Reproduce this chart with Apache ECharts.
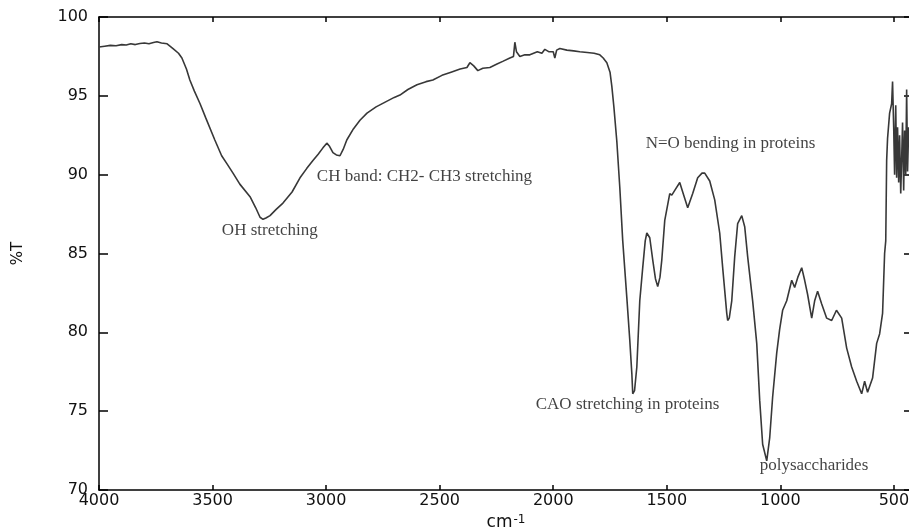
<!DOCTYPE html>
<html>
<head>
<meta charset="utf-8">
<script src="https://cdn.jsdelivr.net/npm/echarts@6/dist/echarts.min.js"></script>
<style>
html,body{margin:0;padding:0;background:#fff;}
#chart{width:909px;height:530px;}
</style>
</head>
<body>
<div id="chart"></div>
<script>
// Wavenumber (cm-1) and transmittance (%T)
const wavenumber = [4000,3975,3950,3925,3900,3880,3860,3840,3820,3800,3780,3760,3745,3725,3700,3674,3650,3635,3615,3600,3580,3555,3530,3490,3460,3437,3410,3380,3335,3310,3291,3278,3265,3247,3220,3190,3150,3115,3085,3058,3035,3014,2997,2985,2970,2955,2939,2925,2909,2880,2851,2820,2780,2740,2700,2675,2640,2600,2560,2530,2490,2450,2410,2380,2367,2350,2332,2310,2279,2250,2220,2191,2175,2169,2162,2147,2125,2103,2070,2050,2037,2020,2000,1993,1985,1971,1940,1910,1883,1850,1820,1795,1780,1764,1750,1742,1733,1720,1707,1694,1676,1663,1654,1650,1642,1632,1619,1606,1595,1588,1575,1562,1550,1540,1530,1522,1509,1487,1478,1465,1443,1430,1408,1386,1364,1345,1333,1311,1289,1267,1254,1236,1232,1225,1214,1201,1188,1170,1157,1144,1122,1104,1091,1078,1060,1047,1034,1016,1003,990,972,950,937,923,906,893,880,862,849,836,818,796,774,753,730,708,686,664,642,629,616,594,576,563,550,541,536,532,528,519,510,506,501,497,492,488,484,479,475,470,466,462,457,453,448,444,440,435];
const transmittance = [98.10,98.15,98.20,98.18,98.25,98.22,98.30,98.25,98.32,98.35,98.30,98.38,98.43,98.35,98.30,98.00,97.70,97.40,96.70,96.00,95.30,94.50,93.60,92.20,91.20,90.70,90.10,89.40,88.60,87.90,87.30,87.17,87.25,87.40,87.80,88.20,88.90,89.80,90.40,90.90,91.30,91.70,92.00,91.80,91.40,91.25,91.20,91.60,92.20,92.90,93.45,93.90,94.30,94.60,94.90,95.05,95.40,95.70,95.90,96.00,96.30,96.50,96.70,96.80,97.10,96.90,96.60,96.75,96.80,97.00,97.20,97.40,97.50,98.40,97.80,97.50,97.60,97.60,97.80,97.70,97.95,97.80,97.80,97.40,97.90,98.00,97.90,97.85,97.80,97.75,97.70,97.60,97.40,97.10,96.50,95.60,94.30,92.10,89.20,85.80,82.20,79.50,77.40,76.10,76.30,77.80,82.00,84.10,85.80,86.30,86.00,84.60,83.40,82.90,83.50,84.60,87.10,88.80,88.70,89.00,89.50,88.90,87.90,88.80,89.80,90.10,90.10,89.60,88.40,86.30,84.10,81.20,80.75,80.90,82.00,84.80,86.90,87.40,86.70,84.80,82.00,79.30,75.70,72.90,71.85,73.30,75.90,78.70,80.20,81.40,82.00,83.30,82.85,83.50,84.10,83.30,82.40,80.90,82.00,82.60,81.80,80.90,80.75,81.40,80.90,79.00,77.80,76.90,76.10,76.90,76.20,77.10,79.30,79.90,81.20,85.00,85.80,90.90,92.30,93.90,94.50,95.90,93.00,90.00,94.40,89.80,93.00,89.50,92.50,88.80,91.00,93.30,89.00,92.80,90.00,95.40,90.20,93.00];

// Tick labels
const xTicks = [4000,3500,3000,2500,2000,1500,1000,500];
const yTicks = [70,75,80,85,90,95,100];

// Annotations: text, anchor wavenumber (left edge of text), anchor %T (text middle)
const annotationText = ['OH stretching','CH band: CH2- CH3 stretching','N=O bending in proteins','CAO stretching in proteins','polysaccharides'];
const annotationWn = [3459,3041,1593,2077,1091];
const annotationT = [86.47,89.90,91.95,75.43,71.54];

const chart = echarts.init(document.getElementById('chart'), null, {renderer:'canvas'});
const sans = 'DejaVu Sans';
const serif = 'Liberation Serif';

const lineData = wavenumber.map((w,i)=>[w, transmittance[i]]);
const annData = annotationText.map((t,i)=>({name:t, value:[annotationWn[i], annotationT[i]]}));

const axisLine = {show:true, onZero:false, lineStyle:{color:'#000', width:1.5}};
const plain = v => String(v);

chart.setOption({
  animation:false,
  backgroundColor:'#fff',
  grid:{left:99, top:17, right:-4, bottom:40, containLabel:false, outerBoundsMode:'none'},
  xAxis:[{
    type:'value', inverse:true, min:416, max:4000,
    axisLine:axisLine,
    axisTick:{show:true, inside:true, length:5, customValues:xTicks, lineStyle:{color:'#000', width:1.5}},
    axisLabel:{show:true, customValues:xTicks, formatter:plain, margin:3, fontFamily:sans, fontSize:16, color:'#111'},
    splitLine:{show:false},
    name:'{b|cm}{s|-1}', nameLocation:'middle', nameGap:24,
    nameTextStyle:{rich:{b:{fontFamily:sans, fontSize:17, color:'#111'}, s:{fontFamily:sans, fontSize:12, color:'#111', verticalAlign:'top', padding:[0,0,6,1]}}}
  },{
    type:'value', inverse:true, min:416, max:4000, position:'top',
    axisLine:axisLine,
    axisTick:{show:true, inside:true, length:5, customValues:xTicks, lineStyle:{color:'#000', width:1.5}},
    axisLabel:{show:false}, splitLine:{show:false}
  }],
  yAxis:[{
    type:'value', min:70, max:100, interval:5,
    axisLine:axisLine,
    axisTick:{show:true, inside:true, length:9, customValues:yTicks, lineStyle:{color:'#000', width:1.5}},
    axisLabel:{show:true, customValues:yTicks, formatter:plain, margin:11, fontFamily:sans, fontSize:16, color:'#111'},
    splitLine:{show:false},
    name:'%T', nameLocation:'middle', nameGap:73,
    nameTextStyle:{fontFamily:sans, fontSize:15, color:'#111'}
  },{
    type:'value', min:70, max:100, interval:5, position:'right',
    axisLine:axisLine,
    axisTick:{show:true, inside:true, length:9, lineStyle:{color:'#000', width:1.5}},
    axisLabel:{show:false}, splitLine:{show:false}
  }],
  series:[{
    type:'line', data:lineData, xAxisIndex:0, yAxisIndex:0,
    showSymbol:false, symbol:'none', smooth:false,
    lineStyle:{color:'#383838', width:1.6},
    silent:true
  },{
    type:'scatter', data:annData, xAxisIndex:0, yAxisIndex:0,
    symbolSize:0, silent:true,
    label:{show:true, position:'right', distance:0, formatter:p=>p.name,
      fontFamily:serif, fontSize:17, color:'#111'}
  }]
});
</script>
</body>
</html>
